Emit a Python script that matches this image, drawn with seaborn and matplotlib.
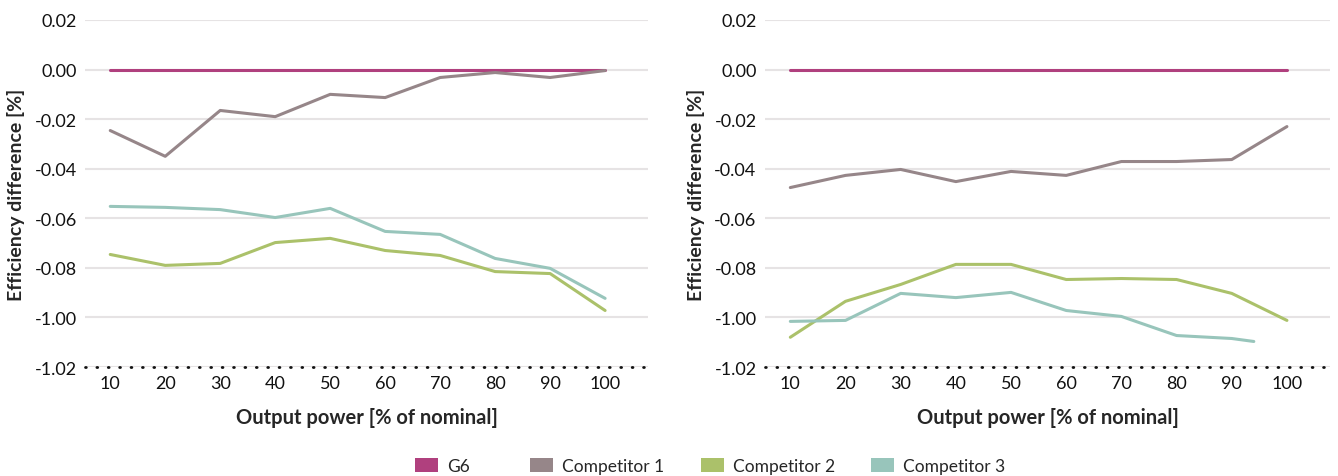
import pandas as pd
import seaborn as sns
import matplotlib.pyplot as plt
from matplotlib.patches import Patch

# output power [% of nominal]
power = [10, 20, 30, 40, 50, 60, 70, 80, 90, 100]
power_c3_right = [10, 20, 30, 40, 50, 60, 70, 80, 90, 94]

series = ["G6", "Competitor 1", "Competitor 2", "Competitor 3"]
colors = ["#b0407e", "#968689", "#abc16a", "#98c5bb"]

# left chart
g6_left = [0, 0, 0, 0, 0, 0, 0, 0, 0, 0]
c1_left = [-0.0246, -0.035, -0.0165, -0.019, -0.0100, -0.0113, -0.0032, -0.0012, -0.0032, -0.0004]
c2_left = [-0.0746, -0.079, -0.0782, -0.0698, -0.0681, -0.073, -0.075, -0.0815, -0.0823, -0.0972]
c3_left = [-0.0552, -0.0556, -0.0565, -0.0597, -0.056, -0.0653, -0.0665, -0.0762, -0.0802, -0.0923]

# right chart
g6_right = [0, 0, 0, 0, 0, 0, 0, 0, 0, 0]
c1_right = [-0.0476, -0.0427, -0.0403, -0.0452, -0.0411, -0.0427, -0.0371, -0.0371, -0.0363, -0.023]
c2_right = [-0.108, -0.0935, -0.0867, -0.0786, -0.0786, -0.0847, -0.0843, -0.0847, -0.0903, -0.1012]
c3_right = [-0.1016, -0.1012, -0.0903, -0.092, -0.0899, -0.0972, -0.0996, -0.1073, -0.1085, -0.1097]

# y tick labels as printed on the original chart
ytick_vals = [0.02, 0.0, -0.02, -0.04, -0.06, -0.08, -0.10, -0.12]
ytick_labels = ["0.02", "0.00", "-0.02", "-0.04", "-0.06", "-0.08", "-1.00", "-1.02"]
xticks = [10, 20, 30, 40, 50, 60, 70, 80, 90, 100]


def make_df(xs_list, ys_list):
    rows = []
    for name, xs, ys in zip(series, xs_list, ys_list):
        for x, y in zip(xs, ys):
            rows.append({"power": x, "diff": y, "series": name})
    return pd.DataFrame(rows)


left = make_df([power] * 4, [g6_left, c1_left, c2_left, c3_left])
right = make_df([power, power, power, power_c3_right], [g6_right, c1_right, c2_right, c3_right])

sns.set_style("white")
plt.rcParams["font.family"] = ["Lato", "DejaVu Sans"]

fig = plt.figure(figsize=(13.38, 4.77), dpi=100)
ax1 = fig.add_axes([0.0635, 0.2285, 0.4208, 0.7275])
ax2 = fig.add_axes([0.5717, 0.2285, 0.4223, 0.7275])

palette = dict(zip(series, colors))
for ax, df in [(ax1, left), (ax2, right)]:
    sns.lineplot(data=df, x="power", y="diff", hue="series", palette=palette,
                 hue_order=series, linewidth=2.2, ax=ax, legend=False, zorder=3)
    ax.set_xlim(5.4, 107.8)
    ax.set_ylim(-0.12, 0.02)
    ax.set_yticks(ytick_vals)
    ax.set_yticklabels(ytick_labels)
    ax.set_xticks(xticks)
    ax.tick_params(labelsize=13, length=0, pad=6, colors="#111111")
    ax.grid(axis="y", color="#e6e3e4", linewidth=1.5, zorder=0)
    ax.grid(axis="x", visible=False)
    for s in ["top", "right", "left"]:
        ax.spines[s].set_visible(False)
    sp = ax.spines["bottom"]
    sp.set_linestyle((0, (0.3, 3.8)))
    sp.set_linewidth(2)
    sp.set_capstyle("round")
    sp.set_color("#111111")
    ax.set_xlabel("Output power [% of nominal]", fontsize=14.5, fontweight="bold", labelpad=11)
    ax.set_ylabel("Efficiency difference [%]", fontsize=14, fontweight="bold", labelpad=7)

# legend entries placed one by one, like the original
legend_x = [414, 529, 700, 870]
for name, c, x in zip(series, colors, legend_x):
    fig.legend([Patch(facecolor=c, edgecolor="none")], [name], loc="center left",
               bbox_to_anchor=(x / 1338 - 0.0085, 1 - 467 / 477), frameon=False,
               fontsize=12.5, handlelength=1.35, handleheight=0.8, handletextpad=0.5,
               borderpad=0.2)

fig.savefig("out.png", dpi=100)
